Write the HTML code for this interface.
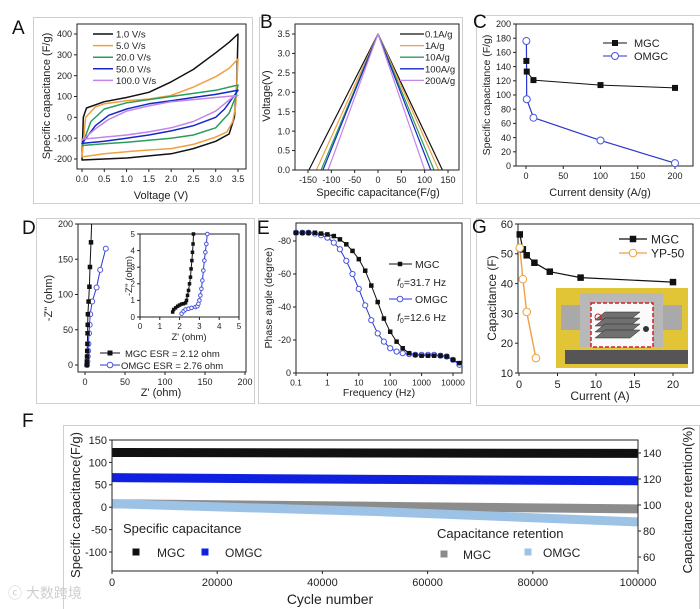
<!DOCTYPE html>
<html><head><meta charset="utf-8">
<style>
html,body{margin:0;padding:0;background:#fff;}
svg{display:block;font-family:"Liberation Sans","Noto Sans CJK SC",sans-serif;}
</style></head>
<body>
<svg id="fig" width="700" height="609" viewBox="0 0 700 609" xmlns="http://www.w3.org/2000/svg">
<g fill="none" stroke="#cfcfcf" stroke-width="1">
<rect x="33.5" y="17.5" width="219" height="186"/>
<rect x="259.5" y="17.5" width="203" height="186"/>
<rect x="476.5" y="15.5" width="224" height="188"/>
<rect x="36.5" y="218.5" width="218" height="185"/>
<rect x="258.5" y="218.5" width="212" height="185"/>
<rect x="476.5" y="218.5" width="224" height="187"/>
<rect x="63.5" y="425.5" width="636" height="190"/>
</g>
<g font-size="19" fill="#111">
<text x="12" y="34">A</text>
<text x="260" y="28">B</text>
<text x="473" y="28">C</text>
<text x="22" y="234">D</text>
<text x="257" y="234">E</text>
<text x="472" y="233">G</text>
<text x="22" y="427">F</text>
</g>
<g font-size="11" fill="#222" text-anchor="middle">
<text transform="translate(50,96) rotate(-90)">Specific capacitance (F/g)</text>
<text x="161" y="199">Voltage (V)</text>
<text transform="translate(270,96) rotate(-90)">Voltage(V)</text>
<text x="378" y="196">Specific capacitance(F/g)</text>
<text transform="translate(490,95) rotate(-90)" font-size="10.5">Specific capacitance (F/g)</text>
<text x="600" y="196">Current density (A/g)</text>
<text transform="translate(52,298) rotate(-90)">-Z'' (ohm)</text>
<text x="161" y="396">Z' (ohm)</text>
<text transform="translate(132,276) rotate(-90)" font-size="9.5">-Z'' (ohm)</text>
<text x="189" y="340" font-size="9.5">Z' (ohm)</text>
<text transform="translate(272,298) rotate(-90)" font-size="10.5">Phase angle (degree)</text>
<text x="379" y="396" font-size="10.5">Frequency (Hz)</text>
<text transform="translate(496,298) rotate(-90)" font-size="12">Capacitance (F)</text>
<text x="600" y="400" font-size="12">Current (A)</text>
<text transform="translate(80,505) rotate(-90)" font-size="13">Specific capacitance(F/g)</text>
<text x="330" y="604" font-size="14">Cycle number</text>
<text transform="translate(692,500) rotate(-90)" font-size="13">Capacitance retention(%)</text>
</g>
<g id="gphoto">
<rect x="556" y="288" width="132" height="80" fill="#e2c537"/>
<rect x="561" y="305" width="121" height="25" fill="#a9a9a9"/>
<rect x="580" y="293" width="83" height="54" fill="#b8b8b8"/>
<rect x="591" y="303" width="62" height="44" fill="#fafafa" stroke="#d02020" stroke-width="1.5" stroke-dasharray="4,2"/>
<g fill="#707070" stroke="#222" stroke-width="0.5">
<polygon points="605,312 640,312 630,320 595,320"/>
<polygon points="605,318 640,318 630,326 595,326"/>
<polygon points="605,324 640,324 630,332 595,332"/>
<polygon points="605,330 640,330 630,338 595,338"/>
</g>
<circle cx="598" cy="317" r="3" fill="none" stroke="#d02020"/>
<circle cx="646" cy="329" r="3" fill="#333"/>
<rect x="565" y="350" width="123" height="14" fill="#555"/>
</g>
<text x="8" y="598" font-size="14" fill="#cfcfcf">ⓒ 大数跨境</text>
</svg>
<script>
// ---------- data ----------
const cvRates = ["1.0 V/s","5.0 V/s","20.0 V/s","50.0 V/s","100.0 V/s"];
const cv1 = [[0,-200],[0.03,0],[0.1,45],[0.5,75],[1.0,95],[1.5,120],[2.0,170],[2.5,230],[3.0,310],[3.3,360],[3.5,400],[3.47,150],[3.42,0],[3.3,-80],[3.0,-115],[2.5,-150],[2.0,-175],[1.5,-185],[1.0,-195],[0.5,-200],[0,-205]];
const cv5 = [[0,-190],[0.08,0],[0.3,50],[0.5,65],[1.0,80],[1.5,88],[2.0,105],[2.5,145],[3.0,195],[3.3,235],[3.5,280],[3.45,60],[3.38,-20],[3.25,-70],[3.0,-95],[2.5,-130],[2.0,-150],[1.5,-157],[1.0,-165],[0.5,-175],[0,-190]];
const cv20 = [[0,-135],[0.2,-20],[0.5,40],[1.0,70],[1.5,85],[2.0,100],[2.5,115],[3.0,130],[3.5,155],[3.45,100],[3.3,20],[3.0,-50],[2.5,-85],[2.0,-100],[1.5,-110],[1.0,-120],[0.5,-127],[0,-135]];
const cv50 = [[0,-125],[0.3,-40],[0.6,10],[1.0,40],[1.5,65],[2.0,80],[2.5,95],[3.0,110],[3.5,130],[3.45,115],[3.2,40],[3.0,0],[2.5,-40],[2.0,-65],[1.5,-85],[1.0,-100],[0.5,-115],[0,-125]];
const cv100 = [[0,-110],[0.3,-55],[0.6,-10],[1.0,30],[1.5,55],[2.0,75],[2.5,85],[3.0,95],[3.5,105],[3.4,100],[3.0,30],[2.5,-20],[2.0,-50],[1.5,-70],[1.0,-85],[0.5,-95],[0,-105]];
const gcdRates = ["0.1A/g","1A/g","10A/g","100A/g","200A/g"];
const gcdLeft = [-148,-132,-122,-118,-107];
const gcdRight = [138,130,120,113,100];
const gcdPeakV = 3.5;
const cX = [0.5,1,10,100,200];
const cMGC = [148,133,121,114,110];
const cOMGCx = [0.5,1,10,100,200];
const cOMGC = [176,94,68,36,4];
const dMGC = [[2.2,0],[2.4,5],[2.6,12],[2.8,20],[3.0,30],[3.2,45],[3.4,57],[3.6,72],[4.5,90],[5.5,111],[6.2,139],[7.5,174],[8.2,200]];
const dOMGC = [[2.7,0],[3.0,5],[3.4,12],[3.8,20],[4.3,30],[5.0,45],[5.8,57],[6.5,72],[9,90],[14.5,110],[19,135],[26,165]];
const dInMGC = [[1.65,0.3],[1.7,0.45],[1.8,0.55],[1.9,0.65],[2.0,0.72],[2.1,0.78],[2.2,0.8],[2.3,0.85],[2.35,1.0],[2.4,1.3],[2.45,1.6],[2.5,2.0],[2.55,2.4],[2.58,2.9],[2.62,3.4],[2.65,3.9],[2.68,4.4],[2.7,5]];
const dInOMGC = [[2.1,0.2],[2.2,0.35],[2.3,0.45],[2.45,0.5],[2.6,0.55],[2.8,0.6],[2.9,0.65],[2.95,0.8],[3.0,1.0],[3.05,1.3],[3.1,1.7],[3.15,2.2],[3.2,2.8],[3.25,3.4],[3.3,3.9],[3.35,4.4],[3.4,5]];
const eFreq = [0.1,0.16,0.25,0.4,0.63,1,1.6,2.5,4,6.3,10,16,25,40,63,100,160,250,400,630,1000,1600,2500,4000,6300,10000,16000];
const eMGC = [-85,-85,-85,-85,-84.5,-84,-83,-81,-78,-74,-69,-62,-53,-43,-33,-25,-19,-15,-12,-11,-10.5,-10.5,-10.5,-10.5,-10,-8,-6];
const eOMGC = [-85,-85,-85,-84.5,-83.5,-82,-79,-75,-68,-60,-51,-41,-32,-24,-19,-15,-13,-12,-11.5,-11,-11,-11,-11,-10.5,-10,-8,-5];
const gMGCx = [0.1,0.5,1,2,4,8,20];
const gMGC = [56.5,51.5,49.5,47,44,42,40.5];
const gYPx = [0.1,0.5,1,2.2];
const gYP = [52,41.5,30.5,15];
const fCycles = [0,50000,100000];
const fMGC = [122,121,120];
const fOMGC = [66,62,59];
const fRetMGC = [101,99,97];
const fRetOMGC = [101,95,87];
const cvColors = ["#111","#f0a040","#2a9d5c","#1428c8","#c386e6"];

// ---------- helpers ----------
const NS = "http://www.w3.org/2000/svg";
const svg = document.getElementById('fig');
function mk(tag, attrs, parent){ const e=document.createElementNS(NS,tag); for(const k in attrs) e.setAttribute(k,attrs[k]); (parent||svg).appendChild(e); return e; }
function lin(d0,d1,r0,r1){ return v=>r0+(v-d0)*(r1-r0)/(d1-d0); }
function box(x0,y0,x1,y1,name){ const r=mk('rect',{x:x0,y:y0,width:x1-x0,height:y1-y0,fill:'none',stroke:'#222','stroke-width':1});


}
function xticks(vals,labels,sx,y,fs,name){ const g=mk('g',{});


vals.forEach((v,i)=>{ const x=sx(v); mk('line',{x1:x,x2:x,y1:y,y2:y+3,stroke:'#222'},g); const t=mk('text',{x:x,y:y+4+fs,'font-size':fs,'text-anchor':'middle',fill:'#222'},g); t.textContent=labels[i]; }); }
function yticks(vals,labels,sy,x,fs,name,right){ const g=mk('g',{});


vals.forEach((v,i)=>{ const y=sy(v); const d=right?3:-3; mk('line',{x1:x,x2:x+d,y1:y,y2:y,stroke:'#222'},g); const t=mk('text',{x:x+(right?5:-5),y:y+fs*0.35,'font-size':fs,'text-anchor':right?'start':'end',fill:'#222'},g); t.textContent=labels[i]; }); }
function poly(pts,sx,sy,stroke,w,closed){ const d=pts.map((p,i)=>(i?'L':'M')+sx(p[0]).toFixed(1)+','+sy(p[1]).toFixed(1)).join('')+(closed?'Z':''); return mk('path',{d:d,fill:'none',stroke:stroke,'stroke-width':w,'stroke-linejoin':'round'}); }
function sq(x,y,s,fill){ return mk('rect',{x:x-s/2,y:y-s/2,width:s,height:s,fill:fill}); }
function circ(x,y,r,stroke){ return mk('circle',{cx:x,cy:y,r:r,fill:'#fff',stroke:stroke,'stroke-width':1}); }
function ltext(x,y,s,fs){ const t=mk('text',{x:x,y:y,'font-size':fs,fill:'#222'}); t.textContent=s; return t; }
const zip=(xs,ys)=>xs.map((x,i)=>[x,ys[i]]);

// ---------- Panel A ----------
{ const sx=lin(0,3.5,82,238), sy=lin(-200,400,159,34);
const cvs=[cv1,cv5,cv20,cv50,cv100];
cvs.forEach((c,i)=>{ const p=poly(c,sx,sy,cvColors[i],1.5,true);


});
box(77,24,246,169,'a-plot-area');
xticks([0,0.5,1,1.5,2,2.5,3,3.5],["0.0","0.5","1.0","1.5","2.0","2.5","3.0","3.5"],sx,169,9,'a-x-ticks');
yticks([-200,-100,0,100,200,300,400],["-200","-100","0","100","200","300","400"],sy,77,9,'a-y-ticks');
cvRates.forEach((r,i)=>{ const y=34+i*11.6; const l=mk('line',{x1:93,x2:113,y1:y,y2:y,stroke:cvColors[i],'stroke-width':1.5});


ltext(116,y+3.5,r,9.5); });
}
// ---------- Panel B ----------
{ const sx=lin(-150,150,308,448), sy=lin(0,3.5,170,34);
gcdLeft.forEach((l,i)=>{ const p=poly([[l,0],[0,gcdPeakV],[gcdRight[i],0]],sx,sy,cvColors[i],1.2,false);


});
box(295,24,459,170,'b-plot-area');
xticks([-150,-100,-50,0,50,100,150],["-150","-100","-50","0","50","100","150"],sx,170,9,'b-x-ticks');
yticks([0,0.5,1,1.5,2,2.5,3,3.5],["0.0","0.5","1.0","1.5","2.0","2.5","3.0","3.5"],sy,295,9,'b-y-ticks');
gcdRates.forEach((r,i)=>{ const y=34+i*11.6; const l=mk('line',{x1:400,x2:424,y1:y,y2:y,stroke:cvColors[i],'stroke-width':1.3});


ltext(425,y+3.5,r,9.5); });
}
// ---------- Panel C ----------
{ const sx=lin(0,200,526,675), sy=lin(0,200,166,24);
box(516,24,693,166,'c-plot-area');
xticks([0,50,100,150,200],["0","50","100","150","200"],sx,166,9,'c-x-ticks');
yticks([0,20,40,60,80,100,120,140,160,180,200],["0","20","40","60","80","100","120","140","160","180","200"],sy,516,9,'c-y-ticks');
const a=poly(zip(cX,cMGC),sx,sy,'#111',1,false);


const b=poly(zip(cOMGCx,cOMGC),sx,sy,'#2a36d0',1.2,false);


cX.forEach((x,i)=>{ const m=sq(sx(x),sy(cMGC[i]),6,'#111');


});
cOMGCx.forEach((x,i)=>{ const m=circ(sx(x),sy(cOMGC[i]),3.5,'#4a56e0');


});
mk('line',{x1:603,x2:627,y1:43,y2:43,stroke:'#111'}); sq(615,43,6,'#111'); ltext(634,47,'MGC',11);
mk('line',{x1:603,x2:627,y1:56,y2:56,stroke:'#2a36d0'}); circ(615,56,3.5,'#4a56e0'); ltext(634,60,'OMGC',11);
}
// ---------- Panel D ----------
{ const sx=lin(0,200,85,245), sy=lin(0,200,365,224);
box(78,224,246,372,'d-plot-area');
xticks([0,50,100,150,200],["0","50","100","150","200"],sx,372,9,'d-x-ticks');
yticks([0,50,100,150,200],["0","50","100","150","200"],sy,78,9,'d-y-ticks');
const a=poly(dMGC,sx,sy,'#111',1,false);


const b=poly(dOMGC,sx,sy,'#2a36d0',1,false);


dOMGC.forEach(p=>{ const m=circ(sx(p[0]),sy(p[1]),2.5,'#4a56e0');


});
dMGC.slice(0,-1).forEach(p=>{ const m=sq(sx(p[0]),sy(p[1]),4.5,'#111');


});
const ix=lin(0,5,140,239), iy=lin(0,5,317,234);
box(140,234,239,317,'d-inset-area');
xticks([0,1,2,3,4,5],["0","1","2","3","4","5"],ix,317,8,'d-inset-x-ticks');
yticks([0,1,2,3,4,5],["0","1","2","3","4","5"],iy,140,8,'d-inset-y-ticks');
const c=poly(dInMGC,ix,iy,'#111',1,false);


const d=poly(dInOMGC,ix,iy,'#2a36d0',1,false);


dInMGC.forEach(p=>{ const m=sq(ix(p[0]),iy(p[1]),3.5,'#111');


});
dInOMGC.forEach(p=>{ const m=circ(ix(p[0]),iy(p[1]),1.8,'#4a56e0');


});
mk('line',{x1:100,x2:120,y1:353,y2:353,stroke:'#111'}); sq(110,353,5,'#111'); ltext(125,357,'MGC   ESR = 2.12 ohm',9.5);
mk('line',{x1:100,x2:120,y1:365,y2:365,stroke:'#2a36d0'}); circ(110,365,2.8,'#4a56e0'); ltext(121,369,'OMGC ESR = 2.76 ohm',9.5);
}
// ---------- Panel E ----------
{ const sx=v=>296+(Math.log10(v)+1)*31.4, sy=lin(0,-80,373,241);
box(296,223,462,373,'e-plot-area');
xticks([0.1,1,10,100,1000,10000],["0.1","1","10","100","1000","10000"],sx,373,8.5,'e-x-ticks');
yticks([0,-20,-40,-60,-80],["0","-20","-40","-60","-80"],sy,296,9,'e-y-ticks');
const a=poly(zip(eFreq,eMGC),sx,sy,'#111',1,false);


const b=poly(zip(eFreq,eOMGC),sx,sy,'#2a36d0',1,false);


eFreq.forEach((f,i)=>{ const m=circ(sx(f),sy(eOMGC[i]),2.6,'#4a56e0');


const n=sq(sx(f),sy(eMGC[i]),4.5,'#111');


});
mk('line',{x1:389,x2:412,y1:264,y2:264,stroke:'#111'}); sq(400,264,4.5,'#111'); ltext(415,268,'MGC',10.5);
const t1=mk('text',{x:397,y:286,'font-size':10.5,fill:'#222'}); t1.innerHTML='<tspan font-style="italic">f</tspan><tspan font-size="7" dy="2">0</tspan><tspan dy="-2">=31.7 Hz</tspan>';
mk('line',{x1:389,x2:412,y1:299,y2:299,stroke:'#2a36d0'}); circ(400,299,2.8,'#4a56e0'); ltext(415,303,'OMGC',10.5);
const t2=mk('text',{x:397,y:321,'font-size':10.5,fill:'#222'}); t2.innerHTML='<tspan font-style="italic">f</tspan><tspan font-size="7" dy="2">0</tspan><tspan dy="-2">=12.6 Hz</tspan>';
}
// ---------- Panel G ----------
{ const sx=lin(0,20,519,673), sy=lin(10,60,373,224);
const ph=document.getElementById('gphoto'); svg.appendChild(ph);
box(518,224,693,373,'g-plot-area');
xticks([0,5,10,15,20],["0","5","10","15","20"],sx,373,11,'g-x-ticks');
yticks([10,20,30,40,50,60],["10","20","30","40","50","60"],sy,518,11,'g-y-ticks');
const a=poly(zip(gMGCx,gMGC),sx,sy,'#111',1.2,false);


const b=poly(zip(gYPx,gYP),sx,sy,'#f0a040',1.4,false);


gMGCx.forEach((x,i)=>{ const m=sq(sx(x),sy(gMGC[i]),6.5,'#111');


});
gYPx.forEach((x,i)=>{ const m=circ(sx(x),sy(gYP[i]),3.8,'#f0a040');


});
mk('line',{x1:619,x2:647,y1:239,y2:239,stroke:'#111','stroke-width':1.2}); sq(633,239,6.5,'#111'); ltext(651,243.5,'MGC',12);
mk('line',{x1:619,x2:647,y1:253,y2:253,stroke:'#f0a040','stroke-width':1.2}); circ(633,253,3.8,'#f0a040'); ltext(651,257.5,'YP-50',12);
}
// ---------- Panel F ----------
{ const sx=lin(0,100000,112,638), sy=lin(-100,150,552,440), sr=lin(60,140,557,453);
const bands=[[fRetMGC,sr,'#8c8c8c','mgc-retention-band'],[fRetOMGC,sr,'#9cc3e6','omgc-retention-band'],[fMGC,sy,'#111','mgc-capacitance-band'],[fOMGC,sy,'#1020e0','omgc-capacitance-band']];
bands.forEach(b=>{ const p=poly(zip(fCycles,b[0]),sx,b[1],b[2],9,false);
p.setAttribute('stroke-linejoin','miter');


});
box(112,440,638,571,'f-plot-area');
xticks([0,20000,40000,60000,80000,100000],["0","20000","40000","60000","80000","100000"],sx,571,11,'f-x-ticks');
yticks([-100,-50,0,50,100,150],["-100","-50","0","50","100","150"],sy,112,11,'f-y-ticks');
yticks([60,80,100,120,140],["60","80","100","120","140"],sr,638,11,'f-right-ticks',true);
ltext(123,533,'Specific capacitance',13);
sq(136,552,7,'#111'); ltext(157,557,'MGC',12);
sq(205,552,7,'#1020e0'); ltext(225,557,'OMGC',12);
ltext(437,538,'Capacitance retention',13);
sq(444,554,7,'#8c8c8c'); ltext(463,559,'MGC',12);
sq(528,552,7,'#9cc3e6'); ltext(543,557,'OMGC',12);
}
</script>
</body></html>
